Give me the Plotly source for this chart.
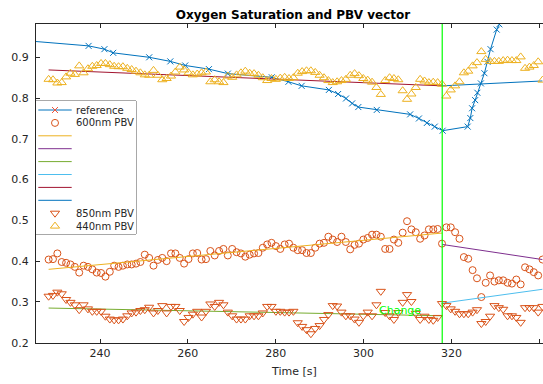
import plotly.graph_objects as go

# ---------------- data ----------------
ref_time = [224.0, 237.4, 241.0, 243.0, 251.2, 256.0, 259.4, 264.8, 269.1, 279.1,
            282.9, 285.9, 292.1, 294.2, 296.0, 297.4, 298.8, 303.0, 310.6, 312.6,
            314.4, 316.2, 318.0, 323.7, 324.3, 324.7, 325.4, 325.9, 326.7, 327.5,
            328.2, 328.9, 330.3, 330.9, 331.6]
ref_value = [0.940, 0.928, 0.920, 0.911, 0.900, 0.890, 0.880, 0.871, 0.860, 0.851,
             0.840, 0.830, 0.820, 0.810, 0.799, 0.787, 0.778, 0.771, 0.760, 0.750,
             0.739, 0.730, 0.720, 0.730, 0.751, 0.775, 0.795, 0.813, 0.836, 0.861,
             0.889, 0.920, 0.968, 0.981, 0.996]

t_start = 228.3   # first PBV sample [s]
dt = 0.995        # PBV sampling period [s]

pbv_600 = [0.404, 0.405, 0.419, 0.398, 0.396, 0.392, 0.386, 0.372, 0.389, 0.386,
           0.380, 0.372, 0.371, 0.362, 0.374, 0.389, 0.386, 0.389, 0.392, 0.392,
           0.394, 0.398, 0.416, 0.408, 0.389, 0.403, 0.408, 0.400, 0.419, 0.419,
           0.408, 0.394, 0.405, 0.419, 0.420, 0.404, 0.405, 0.425, 0.414, 0.425,
           0.430, 0.414, 0.430, 0.422, 0.419, 0.411, 0.416, 0.419, 0.420, 0.433,
           0.441, 0.445, 0.437, 0.430, 0.441, 0.443, 0.433, 0.427, 0.427, 0.420,
           0.420, 0.433, 0.443, 0.445, 0.460, 0.453, 0.447, 0.460, 0.447, 0.429,
           0.440, 0.443, 0.453, 0.457, 0.465, 0.465, 0.460, 0.430, 0.430, 0.453,
           0.445, 0.470, 0.498, 0.478, 0.471, 0.455, 0.463, 0.478, 0.478, 0.479,
           0.443, 0.483, 0.483, 0.471, 0.455, 0.410, 0.406, 0.378, 0.358, 0.312,
           0.347, 0.365, 0.350, 0.353, 0.353, 0.347, 0.345, 0.355, 0.343, 0.385,
           0.380, 0.373, 0.365, 0.404]

pbv_850 = [0.314, 0.316, 0.324, 0.320, 0.306, 0.299, 0.293, 0.281, 0.293, 0.283,
           0.277, 0.277, 0.277, 0.265, 0.258, 0.256, 0.256, 0.258, 0.266, 0.273,
           0.275, 0.279, 0.281, 0.287, 0.273, 0.279, 0.291, 0.273, 0.289, 0.289,
           0.279, 0.252, 0.262, 0.270, 0.277, 0.263, 0.277, 0.295, 0.289, 0.299,
           0.293, 0.275, 0.266, 0.258, 0.258, 0.258, 0.266, 0.266, 0.266, 0.273,
           0.289, 0.289, 0.277, 0.277, 0.275, 0.275, 0.277, 0.249, 0.240, 0.232,
           0.222, 0.235, 0.242, 0.257, 0.269, 0.291, 0.290, 0.275, 0.266, 0.266,
           0.258, 0.250, 0.266, 0.275, 0.266, 0.293, 0.326, 0.274, 0.266, 0.257,
           0.274, 0.299, 0.318, 0.301, 0.272, 0.257, 0.265, 0.257, 0.255, 0.262,
           0.296, 0.291, 0.283, 0.277, 0.271, 0.271, 0.271, 0.275, 0.281, 0.247,
           0.252, 0.265, 0.291, 0.286, 0.282, 0.266, 0.266, 0.262, 0.250, 0.286,
           0.286, 0.286, 0.275, 0.289]

pbv_440 = [0.846, 0.845, 0.837, 0.838, 0.852, 0.861, 0.858, 0.879, 0.862, 0.872,
           0.878, 0.880, 0.885, 0.885, 0.882, 0.878, 0.877, 0.877, 0.873, 0.870,
           0.866, 0.862, 0.857, 0.856, 0.868, 0.856, 0.845, 0.848, 0.854, 0.864,
           0.876, 0.869, 0.862, 0.857, 0.859, 0.862, 0.864, 0.840, 0.845, 0.840,
           0.838, 0.854, 0.851, 0.857, 0.862, 0.866, 0.861, 0.860, 0.856, 0.850,
           0.843, 0.848, 0.846, 0.849, 0.851, 0.848, 0.850, 0.861, 0.865, 0.867,
           0.867, 0.863, 0.856, 0.850, 0.843, 0.838, 0.840, 0.843, 0.846, 0.856,
           0.860, 0.855, 0.848, 0.844, 0.839, 0.826, 0.809, 0.843, 0.850, 0.848,
           0.845, 0.818, 0.797, 0.810, 0.826, 0.846, 0.842, 0.838, 0.839, 0.838,
           0.834, 0.805, 0.820, 0.830, 0.840, 0.862, 0.866, 0.879, 0.887, 0.914,
           0.895, 0.890, 0.890, 0.890, 0.892, 0.893, 0.892, 0.892, 0.901, 0.873,
           0.876, 0.880, 0.889, 0.844]

change_time = 317.9
change_label = "Change"
change_label_time = 303.1
change_label_value = 0.279

# linear fits: start time, end time, start value, end value
fit_600_pre = (228.3, 317.9, 0.380, 0.469)
fit_600_post = (317.9, 340.7, 0.441, 0.404)
fit_850_pre = (228.3, 317.9, 0.285, 0.266)
fit_850_post = (317.9, 340.7, 0.297, 0.331)
fit_440_pre = (228.3, 317.9, 0.869, 0.830)
fit_440_post = (317.9, 340.7, 0.830, 0.842)

x_ticks = [240, 260, 280, 300, 320, 340]
y_ticks = [0.2, 0.3, 0.4, 0.5, 0.6, 0.7, 0.8, 0.9]
x_range = [225.43, 340.84]
y_range = [0.1993, 0.9817]

title = "Oxygen Saturation and PBV vector"
x_label = "Time [s]"
legend_labels = ["reference", "600nm PBV", "", "", "", "", "", "", "850nm PBV", "440nm PBV"]

# ---------------- styles ----------------
C_BLUE = "#0072BD"
C_RED = "#D95319"
C_YEL = "#EDB120"
C_PUR = "#7E2F8E"
C_GRN = "#77AC30"
C_LBL = "#4DBEEE"
C_DRD = "#A2142F"
AX = "#262626"
FONT = "DejaVu Sans"

W, H = 543, 384
L, R, T, B = 36, 0, 24, 41
pw, ph = W - L - R, H - T - B

pbv_time = [round(t_start + dt * k, 3) for k in range(len(pbv_600))]

m_ref = dict(symbol="x-thin-open", size=6, line=dict(color=C_BLUE, width=1))
m_600 = dict(symbol="circle-open", size=7, color=C_RED, line=dict(color=C_RED, width=1))
m_850 = dict(symbol="triangle-down-open", size=8, color=C_RED, line=dict(color=C_RED, width=1))
m_440 = dict(symbol="triangle-up-open", size=8, color=C_YEL, line=dict(color=C_YEL, width=1))

fig = go.Figure()

fig.add_trace(go.Scatter(x=ref_time, y=ref_value, mode="lines+markers",
                         line=dict(color=C_BLUE, width=1), marker=m_ref, showlegend=False))
fig.add_trace(go.Scatter(x=pbv_time, y=pbv_600, mode="markers", marker=m_600,
                         showlegend=False))

fits = [(fit_600_pre, C_YEL), (fit_600_post, C_PUR), (fit_850_pre, C_GRN),
        (fit_850_post, C_LBL), (fit_440_pre, C_DRD), (fit_440_post, C_BLUE)]
for f, c in fits:
    fig.add_trace(go.Scatter(x=[f[0], f[1]], y=[f[2], f[3]], mode="lines",
                             line=dict(color=c, width=1), showlegend=False))

fig.add_trace(go.Scatter(x=pbv_time, y=pbv_850, mode="markers", marker=m_850,
                         showlegend=False))
fig.add_trace(go.Scatter(x=pbv_time, y=pbv_440, mode="markers", marker=m_440,
                         showlegend=False))

# vertical change line
fig.add_shape(type="line", xref="x", yref="paper", x0=change_time, x1=change_time,
              y0=0, y1=1, line=dict(color="#00FF00", width=1.2), layer="above")
fig.add_annotation(x=change_label_time, y=change_label_value, xref="x", yref="y",
                   text=change_label, showarrow=False, xanchor="left", yanchor="middle",
                   font=dict(family=FONT, size=11, color="#00FF00"))

# ---------------- compact MATLAB-style legend ----------------
box_left, box_right, box_top, box_bottom = 35.5, 136, 101, 234   # pixels
lx0 = 0.0
lx1 = (box_right - L) / pw
ly0 = (H - B - box_bottom) / ph
ly1 = (H - B - box_top) / ph
box_w = box_right - L
box_h = box_bottom - box_top
fig.add_shape(type="rect", xref="paper", yref="paper", x0=(box_left - L) / pw, x1=lx1,
              y0=ly0, y1=ly1, line=dict(color=AX, width=0.8), fillcolor="white",
              layer="below")

leg_entries = [
    ("lines+markers", C_BLUE, m_ref),
    ("markers", None, m_600),
    ("lines", C_YEL, None),
    ("lines", C_PUR, None),
    ("lines", C_GRN, None),
    ("lines", C_LBL, None),
    ("lines", C_DRD, None),
    ("lines", C_BLUE, None),
    ("markers", None, m_850),
    ("markers", None, m_440),
]
seg_x0, seg_mid, seg_x1 = 2.3, 19.0, 35.7
for i, (lab, (mode, lc, mk)) in enumerate(zip(legend_labels, leg_entries)):
    ry = 9.0 + 12.9 * i
    if "lines" in mode:
        fig.add_trace(go.Scatter(x=[seg_x0, seg_x1], y=[ry, ry], mode="lines",
                                 line=dict(color=lc, width=1), xaxis="x2", yaxis="y2",
                                 showlegend=False, hoverinfo="skip"))
    if mk is not None:
        fig.add_trace(go.Scatter(x=[seg_mid], y=[ry], mode="markers", marker=mk,
                                 xaxis="x2", yaxis="y2", showlegend=False,
                                 hoverinfo="skip"))
    if lab:
        fig.add_annotation(x=38.3, y=ry, xref="x2", yref="y2", text=lab, showarrow=False,
                           xanchor="left", yanchor="middle",
                           font=dict(family=FONT, size=10, color=AX))

# x-axis label (centred on the full, partly cropped axes)
fig.add_annotation(x=(293.5 - L) / pw, y=-(371 - (H - B)) / ph, xref="paper", yref="paper",
                   text=x_label, showarrow=False, xanchor="center", yanchor="middle",
                   font=dict(family=FONT, size=11, color=AX))

fig.update_layout(
    width=W, height=H,
    margin=dict(l=L, r=R, t=T, b=B, pad=0),
    paper_bgcolor="white", plot_bgcolor="white",
    font=dict(family=FONT, size=11, color=AX),
    title=dict(text="<b>" + title + "</b>", x=293 / W, xanchor="center",
               y=1 - 14.5 / H, yanchor="middle",
               font=dict(family=FONT, size=12, color="#000000")),
    xaxis=dict(range=x_range, tickvals=x_ticks, ticks="inside", ticklen=4,
               tickcolor=AX, showline=True, linecolor=AX, linewidth=1,
               mirror="ticks", showgrid=False, zeroline=False,
               tickfont=dict(family=FONT, size=11, color=AX)),
    yaxis=dict(range=y_range, tickvals=y_ticks, ticktext=[f"{v:.1f}" for v in y_ticks],
               ticks="inside", ticklen=4, tickcolor=AX, showline=True, linecolor=AX,
               linewidth=1, mirror=False, showgrid=False, zeroline=False,
               ticklabelstandoff=4,
               tickfont=dict(family=FONT, size=11, color=AX)),
    xaxis2=dict(domain=[lx0, lx1], range=[0, box_w], anchor="y2", visible=False,
                fixedrange=True),
    yaxis2=dict(domain=[ly0, ly1], range=[box_h, 0], anchor="x2", visible=False,
                fixedrange=True),
)

fig.write_html("out.html")
